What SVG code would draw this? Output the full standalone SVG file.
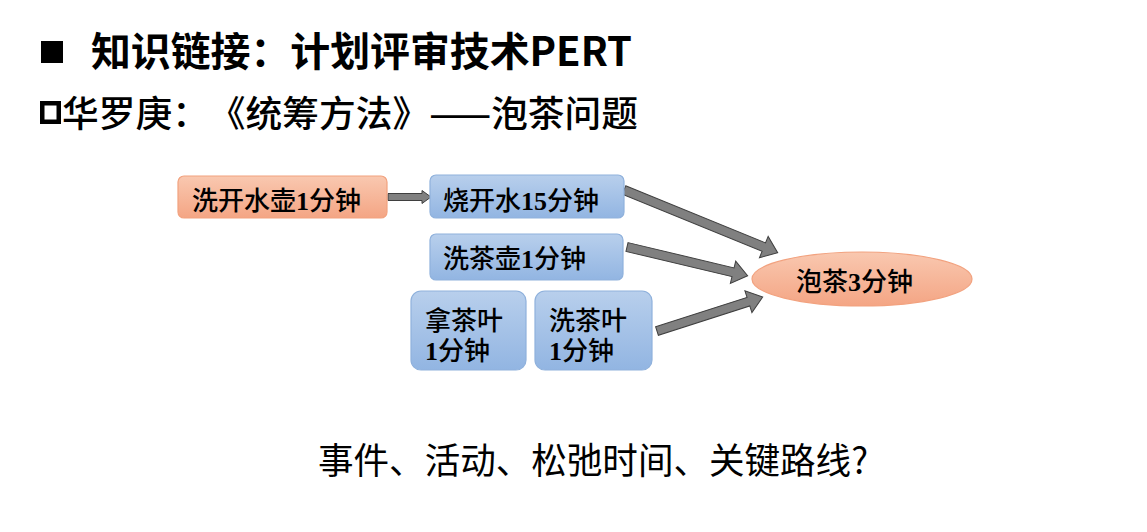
<svg xmlns="http://www.w3.org/2000/svg" width="1147" height="532" viewBox="0 0 1147 532">
<style>
text{text-spacing-trim:space-all}
.title{font-family:"Noto Sans CJK SC","Noto Sans",sans-serif;font-weight:bold;font-size:40px;fill:#000}
.sub{font-family:"Noto Sans CJK SC","Noto Sans",sans-serif;font-weight:500;font-size:36px;fill:#000}
.q{font-family:"Noto Sans CJK SC","Noto Sans",sans-serif;font-weight:normal;font-size:36px;fill:#000}
.lbl{font-family:"Noto Sans CJK SC",serif;font-weight:500;font-size:26px;fill:#000}
.num{font-family:"Liberation Serif","Noto Sans CJK SC",serif;font-weight:bold}
.orange{fill:url(#gO);stroke:#f2a27f;stroke-width:1.2}
.blue{fill:url(#gB);stroke:#8fb1dc;stroke-width:1.2}
.arr{fill:#808080;stroke:#3f3f3f;stroke-width:1}
</style>
<defs>
<linearGradient id="gO" x1="0" y1="0" x2="0" y2="1">
<stop offset="0" stop-color="#f9c8b0"/>
<stop offset="1" stop-color="#f4a584"/>
</linearGradient>
<linearGradient id="gB" x1="0" y1="0" x2="0" y2="1">
<stop offset="0" stop-color="#b8cfec"/>
<stop offset="1" stop-color="#92b5e2"/>
</linearGradient>
</defs>
<rect x="0" y="0" width="1147" height="532" fill="#fff"/>

<g id="title">
<rect x="41" y="41" width="22" height="22" fill="#000"/>
<text class="title" x="91" y="66" textLength="541" lengthAdjust="spacingAndGlyphs">知识链接：计划评审技术PERT</text>
</g>
<g id="subtitle">
<rect x="42.25" y="103.25" width="16.5" height="18.5" fill="none" stroke="#000" stroke-width="4.5"/>
<text class="sub" x="62" y="127" textLength="576" lengthAdjust="spacingAndGlyphs">华罗庚：《统筹方法》——泡茶问题</text>
</g>

<g id="connectors">
<polygon class="arr" transform="translate(388,197)" points="0,-3.5 34,-3.5 34,-6.5 43,0 34,6.5 34,3.5 0,3.5"/>
<polygon class="arr" transform="translate(624,190) rotate(22.2)" points="0,-4.5 151,-4.5 151,-11.5 166,0 151,11.5 151,4.5 0,4.5"/>
<polygon class="arr" transform="translate(627,247) rotate(13.4)" points="0,-4.5 109,-4.5 109,-11.5 124,0 109,11.5 109,4.5 0,4.5"/>
<polygon class="arr" transform="translate(657,331) rotate(-17.8)" points="0,-4.5 96,-4.5 96,-11.5 111,0 96,11.5 96,4.5 0,4.5"/>
</g>

<g id="n1">
<rect class="orange" x="178" y="176" width="209" height="42" rx="6"/>
<text class="lbl" x="192" y="210">洗开水壶<tspan class="num">1</tspan>分钟</text>
</g>
<g id="n2">
<rect class="blue" x="430" y="175" width="194" height="43" rx="6"/>
<text class="lbl" x="443" y="210">烧开水<tspan class="num">15</tspan>分钟</text>
</g>
<g id="n3">
<rect class="blue" x="430" y="234" width="193" height="46" rx="6"/>
<text class="lbl" x="443" y="268">洗茶壶<tspan class="num">1</tspan>分钟</text>
</g>
<g id="n4">
<rect class="blue" x="411" y="291" width="115" height="79" rx="10"/>
<text class="lbl" x="425" y="330">拿茶叶<tspan x="425" y="360"><tspan class="num">1</tspan>分钟</tspan></text>
</g>
<g id="n5">
<rect class="blue" x="535" y="291" width="117" height="79" rx="10"/>
<text class="lbl" x="549" y="330">洗茶叶<tspan x="549" y="360"><tspan class="num">1</tspan>分钟</tspan></text>
</g>
<g id="n6">
<ellipse class="orange" cx="862" cy="279" rx="110" ry="27"/>
<text class="lbl" x="796" y="291">泡茶<tspan class="num">3</tspan>分钟</text>
</g>

<g id="question">
<text class="q" x="318" y="474" textLength="550" lengthAdjust="spacingAndGlyphs">事件、活动、松弛时间、关键路线?</text>
</g>
</svg>
